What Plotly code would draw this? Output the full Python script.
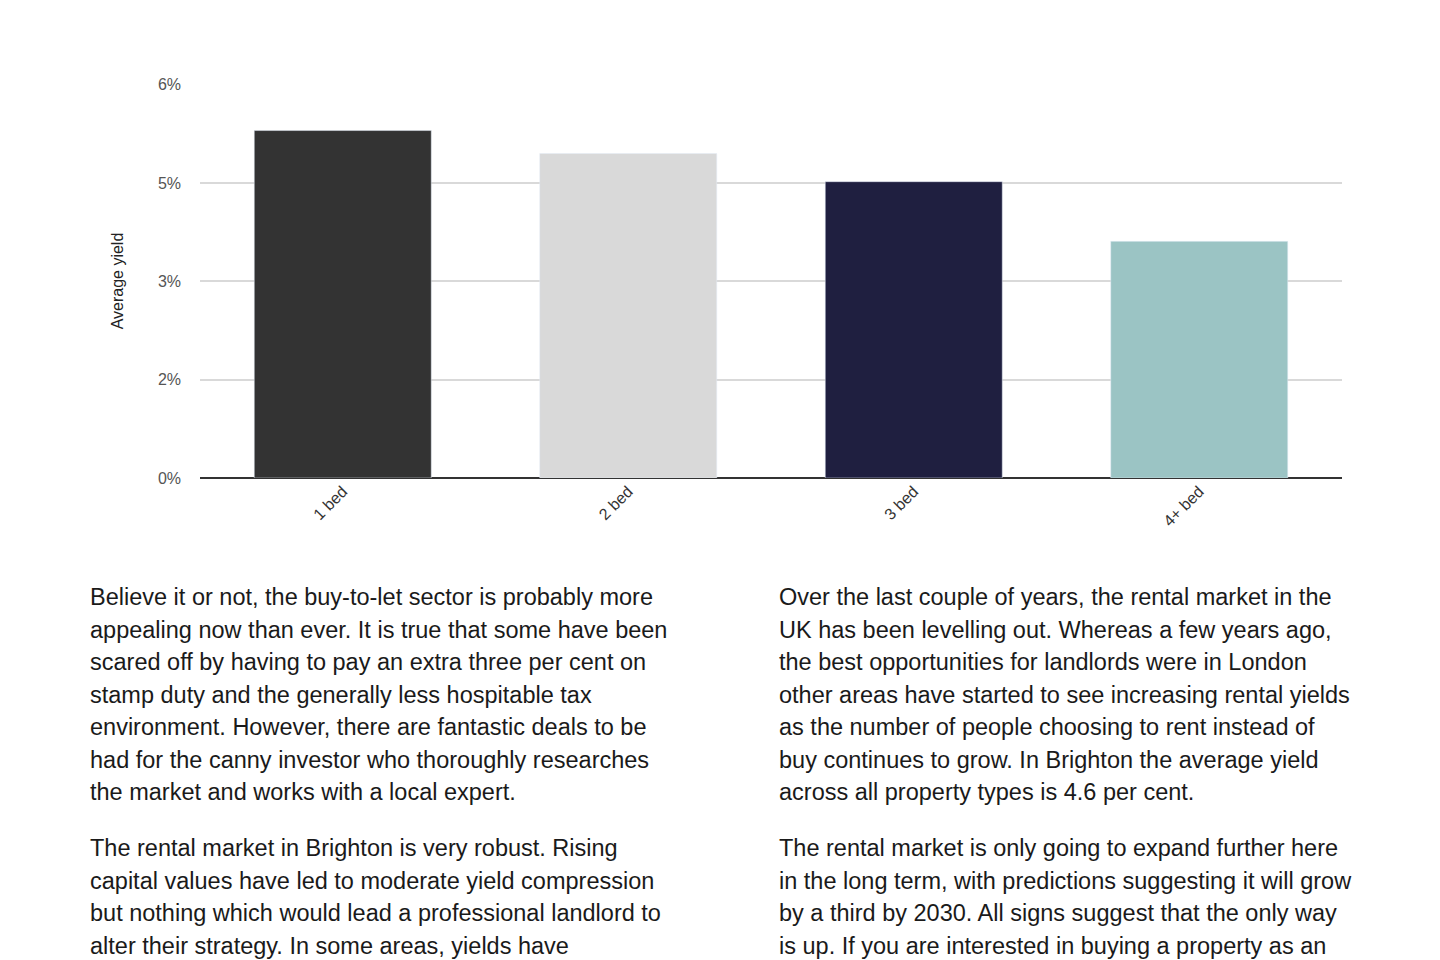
import plotly.graph_objects as go

categories = ["1 bed", "2 bed", "3 bed", "4+ bed"]
yields = [5.30, 4.95, 4.52, 3.61]
colors = ["#333333", "#d9d9d9", "#1f1f40", "#9bc4c4"]
tick_vals = [0, 1.5, 3, 4.5, 6]
tick_text = ["0%", "2%", "3%", "5%", "6%"]

left_lines = [
    "Believe it or not, the buy-to-let sector is probably more",
    "appealing now than ever. It is true that some have been",
    "scared off by having to pay an extra three per cent on",
    "stamp duty and the generally less hospitable tax",
    "environment. However, there are fantastic deals to be",
    "had for the canny investor who thoroughly researches",
    "the market and works with a local expert.",
    None,
    "The rental market in Brighton is very robust. Rising",
    "capital values have led to moderate yield compression",
    "but nothing which would lead a professional landlord to",
    "alter their strategy. In some areas, yields have",
]
right_lines = [
    "Over the last couple of years, the rental market in the",
    "UK has been levelling out. Whereas a few years ago,",
    "the best opportunities for landlords were in London",
    "other areas have started to see increasing rental yields",
    "as the number of people choosing to rent instead of",
    "buy continues to grow. In Brighton the average yield",
    "across all property types is 4.6 per cent.",
    None,
    "The rental market is only going to expand further here",
    "in the long term, with predictions suggesting it will grow",
    "by a third by 2030. All signs suggest that the only way",
    "is up. If you are interested in buying a property as an",
]

fig = go.Figure(go.Bar(x=categories, y=yields, marker_color=colors, width=0.62))

OFF = 8
L, R, T, B = 200, 1342, 84, 478
def px(x): return (x - L) / (R - L)
def py(y): return (B - y) / (B - T)

anns = []
starts = [597, 848]
for col_x, lines in ((90, left_lines), (779, right_lines)):
    paras = [lines[:7], lines[8:]]
    for s, para in zip(starts, paras):
        for i, ln in enumerate(para):
            anns.append(dict(x=px(col_x - 2), y=py(s + 32.5 * i), xref="paper", yref="paper", text=ln,
                             showarrow=False, xanchor="left", yanchor="middle",
                             font=dict(size=23.5, color="#1a1a1a", family="Liberation Sans")))

fig.update_layout(
    width=1440, height=960,
    margin=dict(l=L - OFF, r=1440 - R + OFF, t=T - OFF, b=960 - B + OFF),
    paper_bgcolor="white", plot_bgcolor="white",
    showlegend=False,
    bargap=0.38,
    annotations=anns,
    font=dict(family="Liberation Sans", color="#444444"),
)
fig.update_yaxes(range=[0, 6.01], tickvals=tick_vals, ticktext=tick_text,
                 gridcolor="#d9d9d9", gridwidth=1.5, zeroline=True, zerolinecolor="#333333",
                 zerolinewidth=2, tickfont=dict(size=16, color="#555555"), ticklabelstandoff=18,
                 title=dict(text="Average yield", font=dict(size=16, color="#222222"), standoff=30))
fig.update_xaxes(tickangle=-45, tickfont=dict(size=16, color="#333333"), ticks="", showline=False)

fig.write_html("out.html")
